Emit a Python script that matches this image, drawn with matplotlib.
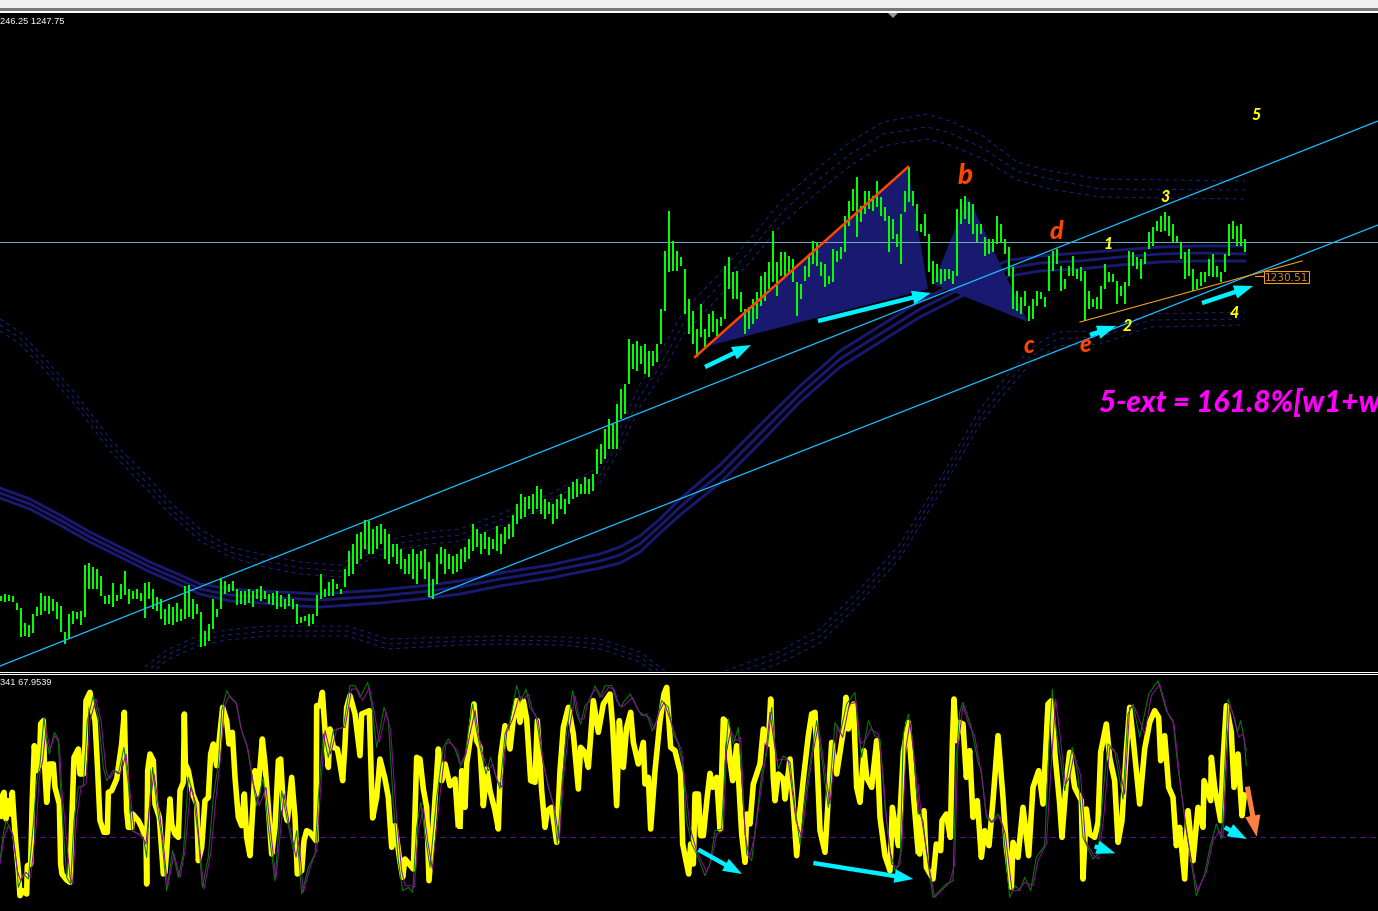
import matplotlib
matplotlib.use("Agg")
import matplotlib.pyplot as plt
from matplotlib.patches import Rectangle, Polygon

W, H = 1378, 912
BLOCK = "#191970"

# ---------- price bars (chart units), one row per 25 bars
bar_high = [
 597,595,596,597,604,609,624,626,615,608,594,597,597,600,603,607,633,615,612,613,612,566,564,568,570,
 577,597,596,584,596,585,572,590,592,590,594,584,583,590,598,600,610,605,608,604,610,587,586,600,605,
 613,632,625,600,610,580,582,585,582,590,592,592,590,592,590,587,592,595,594,592,596,600,595,600,605,
 618,617,615,615,596,575,590,583,580,585,590,570,552,545,535,533,521,522,530,527,525,530,535,545,545,
 550,560,555,550,555,552,550,563,580,555,548,550,555,557,555,550,548,540,525,530,535,533,538,540,527,
 535,528,525,516,505,495,498,497,495,487,490,500,503,505,500,495,500,488,483,480,485,478,480,475,450,
 445,430,420,425,405,390,385,340,345,342,347,345,352,352,345,310,252,212,242,252,258,270,300,312,330,
 305,330,315,312,320,318,267,258,273,272,293,310,308,300,293,277,273,263,232,263,253,253,257,260,283,
 285,267,255,242,243,263,265,277,250,252,248,217,202,190,178,207,192,192,197,182,198,208,217,220,235,
 215,192,168,192,205,225,215,235,262,265,270,270,270,272,210,200,197,203,205,225,225,238,240,240,217,
 225,240,248,268,292,298,292,307,300,292,293,298,257,252,250,267,280,267,257,270,268,272,292,300,298,
 287,265,273,275,282,287,283,252,253,258,260,253,233,228,222,217,213,217,225,237,243,253,250,270,280,
 273,273,260,255,267,273,255,225,222,227,225,240]
bar_low = [
 602,603,602,603,611,638,637,638,634,617,616,612,615,612,620,633,645,640,625,620,626,618,590,590,590,
 597,605,605,608,602,600,596,605,600,600,602,619,600,610,612,620,626,625,626,623,622,620,618,620,615,
 648,647,642,630,618,610,595,593,592,606,605,606,604,608,600,602,600,605,606,610,608,610,607,610,625,
 624,622,627,625,617,600,598,597,597,590,595,588,577,575,565,560,550,555,555,550,545,560,565,558,565,
 570,575,575,580,585,570,580,598,600,585,565,575,570,575,573,570,563,560,552,548,555,550,556,550,552,
 555,545,540,538,525,520,518,510,515,510,515,520,515,525,520,510,515,505,500,498,495,495,495,492,475,
 465,460,450,450,450,420,415,385,370,372,365,375,378,367,363,345,312,273,272,272,267,315,335,345,358,
 338,348,338,333,337,327,320,290,300,300,313,335,330,325,320,307,302,290,283,297,277,277,273,283,317,
 300,282,278,265,267,277,288,285,283,263,260,253,227,212,238,223,215,210,212,208,217,222,253,240,248,
 265,213,203,207,232,233,237,273,285,283,285,282,280,285,277,225,220,225,235,243,235,257,255,253,245,
 243,255,277,310,312,315,307,322,320,307,300,308,292,272,265,292,290,277,277,280,282,322,310,308,310,
 310,290,283,283,305,297,305,287,267,270,280,265,250,247,232,233,232,237,243,243,260,280,277,292,290,
 287,283,277,278,278,283,273,257,240,247,247,253]
bar_step = 4

# ---------- moving-average ribbon
ma_x     = [0,30,60,90,120,150,180,200,230,260,300,320,350,380,400,430,460,500,550,600,620,640,660,680,700,720,760,800,840,880,920,950,980,1010,1040,1080,1120,1160,1200,1245]
ma_upper = [489,500,516,533,548,563,576,585,590,592,594,595,593,591,589,586,582,574,566,555,548,537,520,500,483,466,426,387,352,327,302,287,272,261,257,254,251,248,247,247]
ma_mid   = [494,505,521,538,553,568,581,590,596,598,600,601,599,597,595,592,588,580,572,562,556,545,527,508,491,475,435,395,360,335,310,295,280,269,264,262,258,255,254,255]
ma_lower = [499,510,526,543,558,573,586,595,602,604,607,608,606,604,602,599,595,587,579,569,564,553,534,516,500,484,444,403,368,343,318,303,288,277,272,270,266,263,262,262]

# ---------- upper and lower envelopes (dashed)
up_x  = [0,20,50,80,110,150,170,200,230,260,300,340,370,400,430,460,500,550,600,620,640,657,683,717,750,783,817,850,883,927,950,983,1017,1050,1100,1245]
up_1  = [320,333,365,400,440,480,503,530,548,555,563,566,548,538,533,530,515,495,468,430,385,360,313,277,240,200,170,143,123,115,122,137,163,172,180,182]
up_2  = [326,339,371,406,446,487,509,536,553,561,569,572,554,544,539,536,521,501,476,440,397,372,325,289,252,212,182,155,135,128,134,149,172,180,190,191]
up_3  = [332,345,377,412,452,494,515,542,558,567,575,578,560,550,545,542,527,507,484,450,408,383,336,300,263,224,194,167,147,140,146,160,181,190,198,200]

low_x1 = [145,167,200,227,267,347,367,387,460,500,560,600,640,665]
low_1a = [668,651,636,631,627,627,633,640,638,637,638,640,653,672]
low_1b = [674,656,641,636,632,632,638,645,642,641,642,645,658,677]
low_1c = [680,661,646,641,637,637,643,650,646,645,646,650,663,682]
low_x2 = [725,780,820,860,900,940,980,1000,1030,1057,1100,1150,1245]
low_2a = [672,652,630,590,545,480,410,385,350,333,332,315,313]
low_2b = [678,658,637,597,552,487,418,393,358,340,338,321,320]
low_2c = [684,664,644,604,559,494,425,400,365,347,345,328,326]

# ---------- channels, patterns, arrows
horizontal_level = 242.5
channel_upper = ([0, 1378], [667, 122])
channel_lower = ([430, 1378], [598, 226])
red_leg = ([695, 908], [358, 168])
orange_trend = ([1080, 1302], [323, 262])
triangle_1 = [(708, 347), (908, 168), (928, 290)]
triangle_2 = [(933, 285), (968, 198), (1028, 323)]
price_arrows = [((705, 368), (751, 346)), ((818, 322), (931, 294)),
                ((1090, 336), (1116, 327)), ((1202, 304), (1253, 287))]
wave_red = [("b", 965, 176, 20), ("d", 1056, 232, 18), ("c", 1029, 346, 17), ("e", 1085, 345, 17)]
wave_yellow = [("1", 1108, 244), ("2", 1127, 326), ("3", 1165, 197), ("4", 1234, 313), ("5", 1256, 115)]
title_price = "246.25 1247.75"
title_osc = "341 67.9539"
price_label = "1230.51"
target_text = "5-ext = 161.8%[w1+w"

# ---------- oscillator (x and y in 1/3 pixel reading units, one list per window)
yellow_x1 = [0,5,12,18,25,30,37,42,48,55,60,68,80,82,92,97,100,103,110,118,122,130,133,140,148,160,165,178,182,186,200,210,215,222,235,240,250,255,258,270,275,285,292,300,312,322,325,335,350,365,373,380,385,395,398,415,425,438,440,443,450,460,465,478,490,495,500,510,515,525,535,540,550,553,556,565,578,590,595,605,615,625,632,640,650,660,668,680,687,697,705,715,725,733,740,750,755,765,772,780,787,795,805,815,825,835,842,850,862,875,885,892,905,912,920,930,948,950,960,967,975,985,990,1000,1012,1020,1028,1035,1040,1050,1065,1080,1085,1108,1115,1118,1130,1140,1155,1165,1175,1185,1198,1208,1215,1240,1250,1260,1270,1280,1287,1300,1315,1325,1335,1350,1365,1375]
yellow_y1 = [465,400,385,465,410,450,385,465,545,620,695,680,690,605,600,400,320,245,320,300,180,170,290,415,300,300,370,420,600,630,648,655,480,280,255,330,330,240,110,85,130,170,300,470,505,505,385,380,345,240,145,440,490,490,450,470,490,525,660,320,270,290,420,460,630,625,560,405,480,510,520,380,355,150,300,320,390,420,590,550,410,400,270,240,305,205,130,170,240,205,340,460,485,390,520,575,490,320,390,310,225,300,430,570,490,290,285,430,470,340,460,630,620,530,500,505,530,125,125,85,200,310,195,250,255,300,350,240,130,95,150,275,150,140,380,462,400,285,345,400,550,485,580,640,585,615,280,285,375,430,650,480,255,350,300,365,345,490]
yellow_x2 = [0,5,15,20,30,42,50,60,70,80,90,105,115,122,135,150,160,170,180,190,200,212,225,232,245,255,262,275,290,300,310,325,340,355,362,375,385,400,415,430,450,458,470,478,490,500,512,520,535,550,555,565,572,585,600,612,620,632,645,662,668,680,686,692,700,705,715,722,730,742,750,758,770,780,790,800,810,818,830,845,855,860,870,880,900,910,925,932,940,945,955,970,975,990,1000,1010,1020,1030,1045,1055,1065,1080,1095,1115,1130,1150,1158,1165,1180,1190,1200,1212,1220,1235,1250,1260,1275,1290,1297,1315,1330,1345,1360,1375]
yellow_y2 = [495,320,430,300,230,120,230,250,425,315,380,440,495,280,185,255,165,110,175,110,165,350,355,170,380,490,440,430,535,320,190,130,210,375,250,265,310,110,205,120,90,185,425,170,310,190,145,235,300,235,360,340,495,320,170,90,70,250,260,330,540,600,630,540,600,390,390,515,515,395,328,370,340,495,165,175,290,350,245,510,595,450,480,360,300,195,240,105,345,410,330,345,405,285,430,575,440,345,215,150,145,500,565,235,330,200,100,195,120,370,415,260,340,370,230,460,575,620,430,545,265,175,390,570]
yellow_x3 = [0,5,18,25,45,55,68,72,85,97,103,108,115,125,135,145,155,165,178,190,200,213,225,240,255,265,280,285,300,315,332,345,362,375,390,400,410,425,432,445,455,470,490,495,505,515,530,540,548,565,575,590,600,612,625,635,645,665,680,695,710,722,728,740,752,765,775,785,800,810,825,840,855,858,878,880,890,908,915,925,940,948,960,972,980]
yellow_y3 = [450,570,440,610,645,540,560,470,450,520,240,105,230,175,180,340,260,460,410,580,500,545,410,215,400,550,670,535,580,430,575,370,320,420,120,110,260,420,520,350,265,370,410,645,435,510,520,475,265,180,280,350,535,470,260,130,220,420,255,175,140,160,290,215,370,400,545,490,645,440,590,430,490,350,410,280,370,470,290,125,205,370,270,455,385]

green_x1 = [0,10,18,30,40,50,55,70,85,100,110,120,132,140,148,163,175,180,190,200,212,222,235,250,262,280,295,310,320,340,355,372,385,395,415,430,440,450,458,470,485,500,518,535,550,565,580,595,607,625,640,655,665,680,695,710,725,740,755,770,790,805,825,845,860,880,890,905,925,945,955,970,985,1000,1030,1050,1065,1080,1103,1115,1130,1152,1165,1180,1195,1208,1225,1238,1250,1262,1275,1290,1310,1330,1345,1365,1380]
green_y1 = [590,510,470,490,520,600,670,630,645,480,350,300,160,230,270,205,225,340,500,640,660,470,370,365,170,95,160,310,350,318,330,250,360,500,510,520,580,400,310,420,520,680,560,640,570,340,390,520,670,580,400,300,140,80,105,120,200,240,330,425,340,490,650,380,460,560,500,690,610,570,400,210,280,200,190,65,65,100,55,120,250,130,170,420,590,680,670,685,490,415,510,610,400,250,225,255,300]
green_x2 = [0,15,25,38,48,60,78,92,105,120,135,150,170,183,198,210,228,245,265,280,292,305,318,338,350,362,375,390,405,420,435,455,470,485,490,511,530,545,560,577,590,605,625,640,655,668,680,695,710,735,750,765,785,795,805,820,835,848,860,875,890,905,920,935,945,955,970,990,1005,1020,1035,1050,1070,1085,1105,1125,1140,1160,1185,1195,1205,1225,1245,1260,1275,1290,1305,1320,1330,1345,1358,1375]
green_y2 = [310,280,200,120,190,250,330,280,330,375,210,170,65,110,75,130,155,270,370,420,540,370,220,80,150,180,125,110,65,100,65,65,110,130,115,90,130,155,150,200,170,110,130,210,240,300,470,540,570,635,600,500,495,300,165,240,190,380,570,590,460,330,270,130,245,315,275,295,430,540,400,300,170,280,430,175,210,120,85,200,280,170,215,225,430,560,620,600,210,150,230,450]
green_x3 = [0,15,25,45,65,85,105,115,125,135,160,180,190,205,220,240,255,275,292,305,320,338,355,380,395,403,415,430,440,463,480,495,525,540,555,570,590,615,630,645,665,692,720,745,765,780,800,815,835,860,875,895,910,930,945,958,968,978,985]
green_y3 = [440,470,560,700,680,660,650,280,145,115,190,295,320,460,475,450,490,700,665,680,640,680,580,545,200,75,200,300,380,250,330,520,585,570,390,240,260,405,150,120,220,90,50,140,170,310,460,560,695,630,555,480,525,105,150,205,170,220,305]

purple_x1 = [0,12,25,38,52,62,78,92,108,118,128,138,150,165,178,185,197,210,218,230,243,258,270,288,303,318,328,345,362,378,392,403,422,438,448,462,478,492,503,522,540,555,572,588,600,612,632,648,662,672,688,708,722,745,760,778,798,812,828,852,868,888,897,910,932,950,962,975,992,1010,1035,1055,1072,1088,1108,1122,1138,1158,1172,1188,1205,1215,1230,1243,1255,1270,1283,1297,1318,1338,1350,1372,1380]
purple_y1 = [600,520,485,510,620,650,625,640,490,340,290,195,255,215,240,370,500,640,660,460,370,360,170,105,170,320,345,320,330,270,400,505,510,540,430,330,440,560,670,570,640,560,370,420,560,675,570,400,280,130,95,115,190,260,360,425,370,500,645,390,480,580,530,685,605,560,370,200,270,195,190,75,75,110,70,140,235,145,200,440,620,665,665,670,500,430,530,615,410,240,235,260,295]
purple_x2 = [0,18,30,45,55,68,85,98,112,126,140,158,178,190,205,218,235,250,270,283,298,310,325,345,358,372,382,398,410,425,445,462,478,492,518,535,552,568,583,597,612,632,648,665,675,690,708,740,755,770,790,800,812,828,842,855,868,885,900,915,930,950,965,985,1008,1025,1042,1058,1075,1092,1110,1132,1148,1168,1188,1202,1215,1232,1255,1268,1280,1295,1312,1325,1338,1350,1365,1378]
purple_y2 = [300,270,210,140,210,270,320,300,350,370,205,165,95,105,90,140,170,300,385,430,530,345,215,95,165,165,120,85,75,100,70,75,125,125,100,140,155,160,195,145,115,170,220,260,360,490,555,625,585,510,500,260,200,230,220,510,585,510,400,290,145,290,285,290,470,520,380,270,185,300,420,185,220,120,115,240,230,195,210,320,470,600,610,560,250,175,300,440]
purple_x3 = [0,12,30,50,75,95,110,120,135,150,170,190,205,222,245,262,282,300,320,345,360,385,400,413,428,442,455,468,488,502,528,542,558,575,597,620,635,650,680,700,725,750,768,785,805,820,838,865,885,905,915,935,950,962,975,985]
purple_y3 = [360,470,590,700,675,655,600,250,125,175,215,330,450,475,455,510,680,680,655,665,590,540,300,105,230,360,340,270,335,530,575,585,450,250,270,390,130,130,210,95,60,150,180,340,500,590,680,625,530,500,520,120,165,220,210,260]

window_offset = [0, 1380, 2754]
osc_level = 519
osc_arrows_cyan = [((2095, 557), (2226, 630)), ((2440, 597), (2740, 645)),
                   ((3284, 547), (3346, 568)), ((3674, 490), (3740, 525))]
osc_arrow_orange = ((3742, 368), (3770, 518))

# ---------- figure
fig = plt.figure(figsize=(W / 100, H / 100), dpi=100, facecolor="black")
fig.add_artist(Rectangle((0, 1 - 9 / H), 1, 9 / H, transform=fig.transFigure, fc="#f0f0f0", ec="none"))
fig.add_artist(Rectangle((0, 1 - 12 / H), 1, 3 / H, transform=fig.transFigure, fc="#777777", ec="none"))
fig.add_artist(Rectangle((0, 1 - 14 / H), 1, 2 / H, transform=fig.transFigure, fc="#ffffff", ec="none"))

ax = fig.add_axes([0, (H - 672) / H, 1, (672 - 14) / H], facecolor="black")
ax.set_xlim(0, W)
ax.set_ylim(672, 14)
ax.axis("off")

for ys in (ma_upper, ma_mid, ma_lower):
    ax.plot(ma_x, ys, color=BLOCK, lw=2.1, zorder=2)
dash = dict(color="#20208a", lw=0.7, ls=(0, (4, 4)), zorder=2)
for ys in (up_1, up_2, up_3):
    ax.plot(up_x, ys, **dash)
for ys in (low_1a, low_1b, low_1c):
    ax.plot(low_x1, ys, **dash)
for ys in (low_2a, low_2b, low_2c):
    ax.plot(low_x2, ys, **dash)

ax.axhline(horizontal_level, color="#6fa6c4", lw=0.75, zorder=3)
for tri in (triangle_1, triangle_2):
    ax.add_patch(Polygon(tri, closed=True, fc=BLOCK, ec="none", zorder=2.5))

bar_x = [i * bar_step + 1 for i in range(len(bar_high))]
ax.vlines(bar_x, bar_high, bar_low, color="#00ff00", lw=1.44, zorder=4, antialiased=False)

for c in (channel_upper, channel_lower):
    ax.plot(c[0], c[1], color="#19bfff", lw=0.9, zorder=5)
ax.plot(*red_leg, color="#ff4500", lw=1.8, zorder=5)
ax.plot(*orange_trend, color="#e8a020", lw=0.8, zorder=5)


def arrow(a, p, q, color, scale=16):
    a.annotate("", xy=q, xytext=p, zorder=7,
               arrowprops=dict(arrowstyle="simple,head_length=0.85,head_width=0.62,tail_width=0.2",
                               color=color, lw=0, shrinkA=0, shrinkB=0, mutation_scale=scale))


for p, q in price_arrows:
    arrow(ax, p, q, "#00f0ff")

hand = dict(family="Lato", weight="black", style="italic", ha="center", va="center", zorder=8)
for s, x, y, size in wave_red:
    ax.text(x, y, s, color="#ff4500", fontsize=size, **hand)
for s, x, y in wave_yellow:
    ax.text(x, y, s, color="#ffff00", fontsize=11.5, **hand)
ax.text(1099, 402, target_text, color="#ff00ff", fontsize=21.3, family="Lato", weight="black",
        style="italic", ha="left", va="center", zorder=8, clip_on=False)

ax.plot([1255, 1265], [277, 277], color="#e8a020", lw=0.8, zorder=6)
ax.text(1286.5, 278, price_label, color="#d88a10", fontsize=7.6, family="DejaVu Sans", ha="center", va="center",
        zorder=8, bbox=dict(boxstyle="square,pad=0.12", fc="black", ec="#e8a020", lw=0.8))
ax.text(0, 21.5, title_price, color="white", fontsize=6.7, family="Liberation Sans", ha="left", va="center", zorder=9)

fig.add_artist(Polygon([(888 / W, 1 - 14 / H), (898 / W, 1 - 14 / H), (893 / W, 1 - 19 / H)],
                       transform=fig.transFigure, fc="#999999", ec="none"))
fig.add_artist(Rectangle((0, 1 - 674 / H), 1, 1.2 / H, transform=fig.transFigure, fc="white", ec="none"))
fig.add_artist(Rectangle((0, 1 - 676 / H), 1, 1.2 / H, transform=fig.transFigure, fc="white", ec="none"))

# ---------- oscillator pane
ox = fig.add_axes([0, 0, 1, (H - 677) / H], facecolor="black")
ox.set_xlim(0, W * 3)
ox.set_ylim(741, 36)
ox.axis("off")
ox.axhline(osc_level, color="#5a1090", lw=0.8, ls=(0, (5, 4)), zorder=1)

for off, xs, ys in zip(window_offset, (yellow_x1, yellow_x2, yellow_x3), (yellow_y1, yellow_y2, yellow_y3)):
    ox.plot([off + v for v in xs], ys, color="#ffff00", lw=4.0, solid_capstyle="butt", solid_joinstyle="round", zorder=2)
for off, xs, ys in zip(window_offset, (green_x1, green_x2, green_x3), (green_y1, green_y2, green_y3)):
    ox.plot([off + v for v in xs], ys, color="#008000", lw=0.75, zorder=3)
for off, xs, ys in zip(window_offset, (purple_x1, purple_x2, purple_x3), (purple_y1, purple_y2, purple_y3)):
    ox.plot([off + v for v in xs], ys, color="#8b0a9b", lw=0.75, zorder=3)

for p, q in osc_arrows_cyan:
    arrow(ox, p, q, "#00f0ff")
arrow(ox, osc_arrow_orange[0], osc_arrow_orange[1], "#ff7f40", scale=18)
ox.text(0, 54, title_osc, color="white", fontsize=6.7, family="Liberation Sans", ha="left", va="center", zorder=9)

fig.savefig("out.png", dpi=100, facecolor="black")
